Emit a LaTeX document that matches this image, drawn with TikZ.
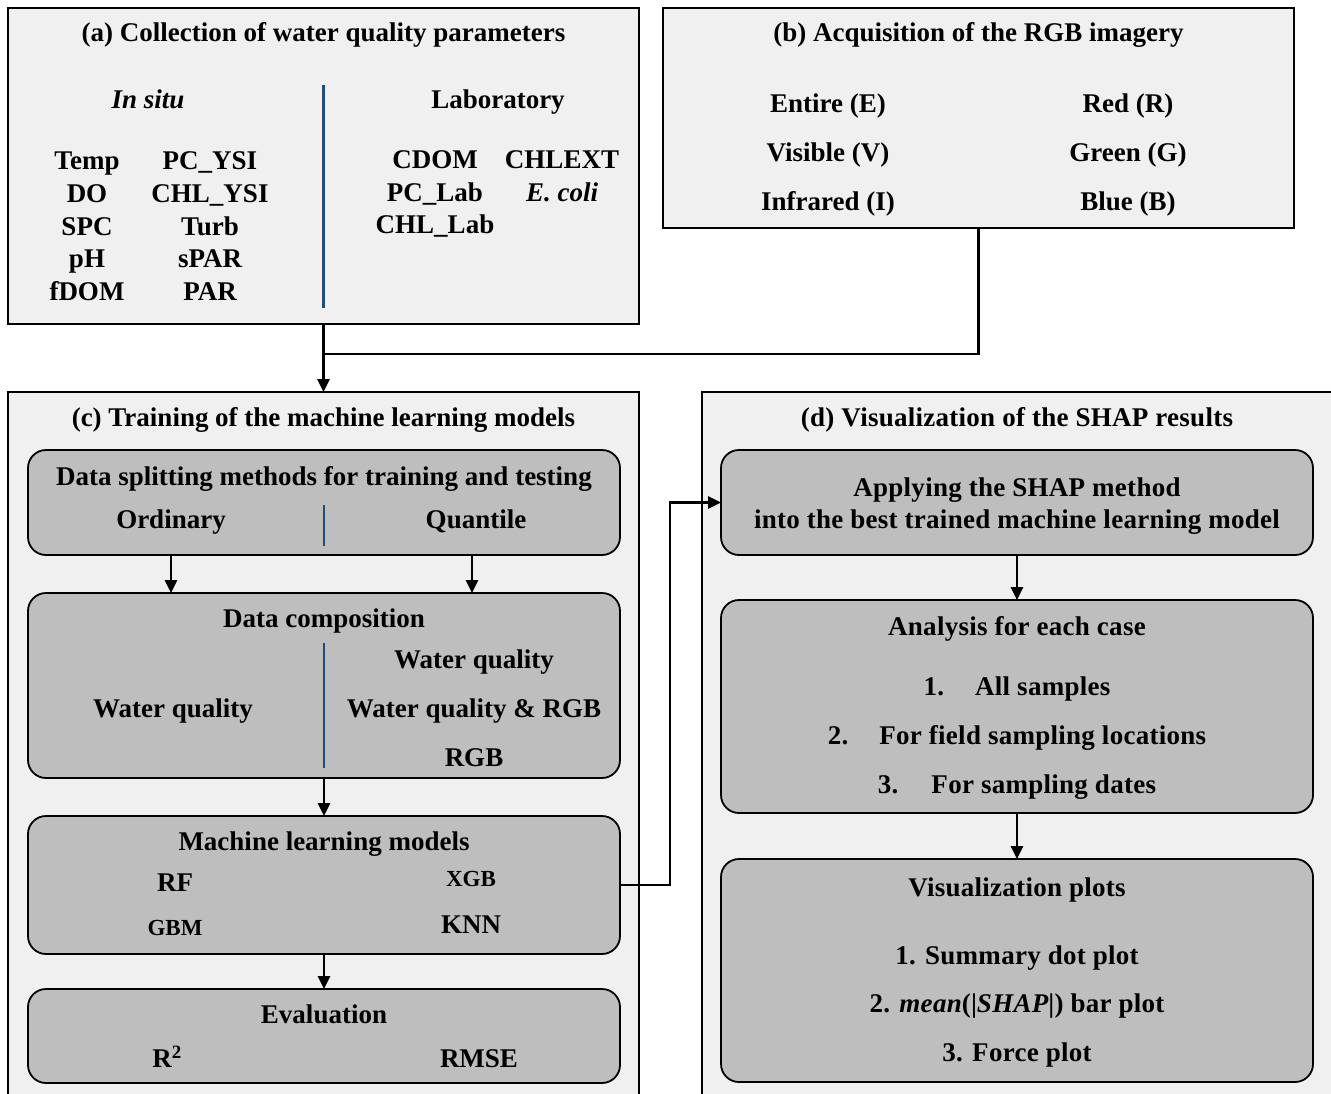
\documentclass[tikz,border=0pt]{standalone}
\usepackage{fontspec}
\setmainfont{Liberation Serif}
\newfontfamily\dfam{Liberation Serif}[LetterSpace=1]
\usetikzlibrary{arrows.meta,calc}
\definecolor{outerfill}{RGB}{240,240,240}
\definecolor{innerfill}{RGB}{190,190,190}
\definecolor{divblue}{RGB}{31,78,121}
\newcommand\myfs{\fontsize{27}{31}\selectfont\bfseries}
\newcommand\mysmall{\fontsize{23}{27}\selectfont\bfseries}
\tikzset{
  outerbox/.style={draw=black, line width=2.6pt, fill=outerfill, rectangle, anchor=north west, inner sep=0, outer sep=0},
  innerbox/.style={draw=black, line width=1.8pt, fill=innerfill, rectangle, rounded corners=18pt, anchor=north west, inner sep=0, outer sep=0},
  txt/.style={font=\myfs, inner sep=0, text height=17.8pt, text depth=0pt, anchor=center},
  stxt/.style={font=\mysmall, inner sep=0, text height=15.2pt, text depth=0pt, anchor=center},
  dtxt/.style={font=\dfam\myfs, inner sep=0, text height=17.8pt, text depth=0pt, anchor=center},
  divider/.style={draw=divblue, line width=2.2pt},
  conn/.style={draw=black, line width=2.6pt},
  arr/.style={conn, -{Triangle[length=13pt,width=12pt]}},
}
\begin{document}
\begin{tikzpicture}[x=1pt,y=-1pt]
\useasboundingbox (0,0) rectangle (1331,1093);
\clip (0,0) rectangle (1331,1093);
% ---------- outer panels ----------
\node[outerbox, minimum width=631pt, minimum height=316pt] (A) at (8,8) {};
\node[outerbox, minimum width=631pt, minimum height=220pt] (B) at (663,8) {};
\node[outerbox, minimum width=631pt, minimum height=720pt] (C) at (8,392) {};
\node[outerbox, minimum width=640pt, minimum height=720pt] (D) at (702,392) {};
% ---------- panel (a) ----------
\node[txt] (Atitle) at (323.5,33) {(a) Collection of water quality parameters};
\node[txt] (insitu) at (148,100) {\itshape In situ};
\node[txt] (lab) at (498,100) {Laboratory};
\draw[divider] (323.5,85) -- (323.5,308);
\node[txt] (temp) at (87,161) {Temp};
\node[txt] (do) at (87,194) {DO};
\node[txt] (spc) at (87,227) {SPC};
\node[txt] (ph) at (87,259) {pH};
\node[txt] (fdom) at (87,292) {fDOM};
\node[txt] (pcysi) at (210,161) {PC\_YSI};
\node[txt] (chlysi) at (210,194) {CHL\_YSI};
\node[txt] (turb) at (210,227) {Turb};
\node[txt] (spar) at (210,259) {sPAR};
\node[txt] (par) at (210,292) {PAR};
\node[txt] (cdom) at (435,160) {CDOM};
\node[txt] (pclab) at (435,193) {PC\_Lab};
\node[txt] (chllab) at (435,225) {CHL\_Lab};
\node[txt] (chlext) at (562,160) {CHLEXT};
\node[txt] (ecoli) at (562,193) {\itshape E. coli};
% ---------- panel (b) ----------
\node[txt] (Btitle) at (978.5,33) {(b) Acquisition of the RGB imagery};
\node[txt] (ent) at (828,104) {Entire (E)};
\node[txt] (vis) at (828,153) {Visible (V)};
\node[txt] (inf) at (828,202) {Infrared (I)};
\node[txt] (red) at (1128,104) {Red (R)};
\node[txt] (grn) at (1128,153) {Green (G)};
\node[txt] (blu) at (1128,202) {Blue (B)};
% ---------- connectors a,b -> c ----------
\coordinate (J) at (323.5,354);
\draw[conn] (B.south) |- (J);
\draw[arr] (A.south) -- (C.north);
% ---------- panel (c) ----------
\node[txt] (Ctitle) at (323.5,418) {(c) Training of the machine learning models};
\node[innerbox, minimum width=592pt, minimum height=105pt] (c1) at (28,450) {};
\node[txt] (c1t) at (324,477) {Data splitting methods for training and testing};
\node[txt] (ord) at (171,520) {Ordinary};
\node[txt] (qua) at (476,520) {Quantile};
\draw[divider] (324,505) -- (324,546);
\node[innerbox, minimum width=592pt, minimum height=185pt] (c2) at (28,593) {};
\node[txt] (c2t) at (324,619) {Data composition};
\node[txt] (wq1) at (173,709) {Water quality};
\node[txt] (wq2) at (474,660) {Water quality};
\node[txt] (wq3) at (474,709) {Water quality \& RGB};
\node[txt] (rgb) at (474,758) {RGB};
\draw[divider] (324,643) -- (324,768);
\node[innerbox, minimum width=592pt, minimum height=138pt] (c3) at (28,816) {};
\node[txt] (c3t) at (324,842) {Machine learning models};
\node[txt] (rf) at (175,883) {RF};
\node[stxt] (xgb) at (471,879) {XGB};
\node[stxt] (gbm) at (175,928) {GBM};
\node[txt] (knn) at (471,925) {KNN};
\node[innerbox, minimum width=592pt, minimum height=94pt] (c4) at (28,989) {};
\node[txt] (c4t) at (324,1015) {Evaluation};
\node[txt] (r2) at (167,1059) {R\textsuperscript{2}};
\node[txt] (rmse) at (479,1059) {RMSE};
\draw[arr] (ord |- c1.south) -- (ord |- c2.north);
\draw[arr] (472,555) -- (472,593);
\draw[arr] (c2.south) -- (c3.north);
\draw[arr] (c3.south) -- (c4.north);
% ---------- panel (d) ----------
\node[dtxt] (Dtitle) at (1017,418) {(d) Visualization of the SHAP results};
\node[innerbox, minimum width=592pt, minimum height=105pt] (d1) at (721,450) {};
\node[dtxt] (d1a) at (1017,488) {Applying the SHAP method};
\node[dtxt] (d1b) at (1017,520) {into the best trained machine learning model};
\node[innerbox, minimum width=592pt, minimum height=213pt] (d2) at (721,600) {};
\node[dtxt] (d2t) at (1017,627) {Analysis for each case};
\node[dtxt] (d2a) at (1017,687) {1.\hspace{31pt}All samples};
\node[dtxt] (d2b) at (1017,736) {2.\hspace{31pt}For field sampling locations};
\node[dtxt] (d2c) at (1017,785) {3.\hspace{33pt}For sampling dates};
\node[innerbox, minimum width=592pt, minimum height=223pt] (d3) at (721,859) {};
\node[dtxt] (d3t) at (1017,888) {Visualization plots};
\node[dtxt] (d3a) at (1017,956) {1. Summary dot plot};
\node[dtxt] (d3b) at (1017,1004) {2. {\itshape mean}(|{\itshape SHAP}|) bar plot};
\node[dtxt] (d3c) at (1017,1053) {3. Force plot};
\draw[arr] (d1.south) -- (d2.north);
\draw[arr] (d2.south) -- (d3.north);
% ---------- c -> d ----------
\draw[arr] (c3.east) -- ++(50,0) |- (d1.west);
\end{tikzpicture}
\end{document}
